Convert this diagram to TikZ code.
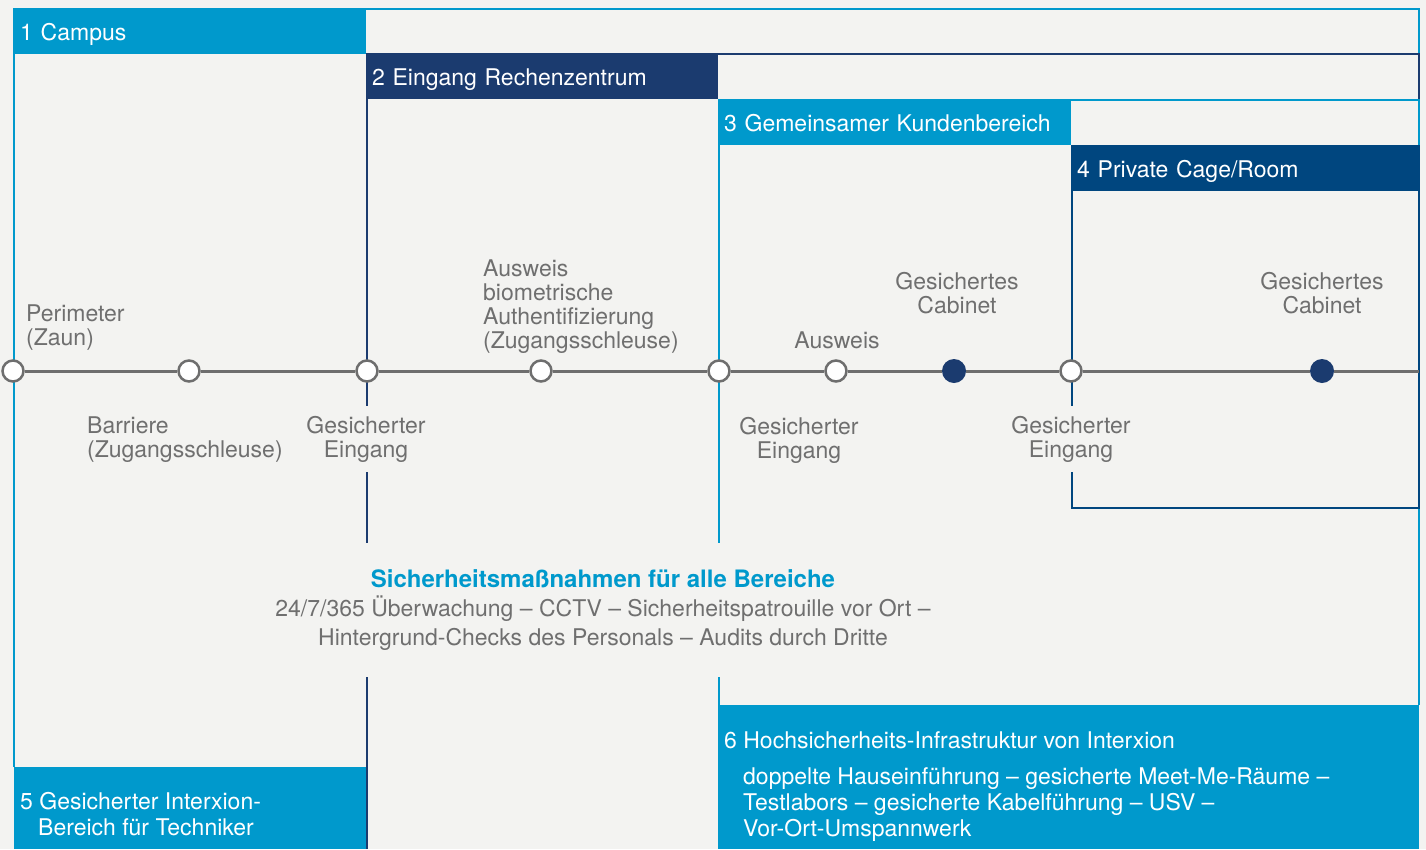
\documentclass[tikz,border=0pt]{standalone}
\usepackage{fontspec}
\setmainfont{TeX Gyre Heros}
\definecolor{bg}{HTML}{F3F3F1}
\definecolor{lblue}{HTML}{0099CC}
\definecolor{navyA}{HTML}{1B3B6F}
\definecolor{navyB}{HTML}{00467F}
\definecolor{track}{HTML}{6E6E6E}
\definecolor{txt}{HTML}{6F6F6F}
\begin{document}
\begin{tikzpicture}[x=1pt, y=-1pt,
        every node/.style={font=\fontsize{23}{24}\selectfont},
        header/.style={anchor=north west, inner xsep=6pt, inner ysep=0pt, text=white, align=left,
            text height=17pt, text depth=0pt, minimum height=45pt},
        note/.style={text=txt, inner sep=0pt},
        gapnote/.style={note, align=center, fill=bg, inner xsep=3pt, inner ysep=10pt},
        station/.style={circle, draw=track, line width=2.5pt, fill=white, minimum size=21pt, inner sep=0pt},
        cabinet/.style={circle, fill=navyA, minimum size=24pt, inner sep=0pt},
        wall/.style={line width=2pt}
    ]
        \useasboundingbox (0,0) rectangle (1426,849);
        \fill[bg] (0,0) rectangle (1426,849);

        % Frames
        \draw[wall, lblue] (14,767) -- (14,9) -- (1419,9) -- (1419,54);
        \draw[wall, navyA] (367,849) -- (367,54) -- (1419,54) -- (1419,100);
        \draw[wall, lblue] (719,705) -- (719,100) -- (1419,100) -- (1419,705);
        \draw[wall, navyB] (1072,146) -- (1419,146) -- (1419,508) -- (1072,508) -- cycle;

        % Headers
        \node[header, fill=lblue, text width=340pt] (h1) at (14,9) {1 Campus};
        \node[header, fill=navyA, text width=340pt] (h2) at (366,54) {2 Eingang Rechenzentrum};
        \node[header, fill=lblue, text width=341pt] (h3) at (718,100) {3 Gemeinsamer Kundenbereich};
        \node[header, fill=navyB, text width=336pt] (h4) at (1071,146) {4 Private Cage/Room};

        % Bottom boxes
        \fill[lblue] (14,767) rectangle (366,849);
        \fill[lblue] (718,705) rectangle (1419,849);
        \node[anchor=north west, inner sep=0pt, text=white, align=left, font=\fontsize{23}{26}\selectfont] (tech) at (20,792)
            {5 Gesicherter Interxion-\\\hspace*{18pt}Bereich für Techniker};
        \node[anchor=north west, inner sep=0pt, text=white] (infra) at (724,731)
            {6 Hochsicherheits-Infrastruktur von Interxion};
        \node[anchor=north west, inner sep=0pt, text=white, align=left, font=\fontsize{23}{26}\selectfont] (infralist) at (743,767)
            {doppelte Hauseinführung -- gesicherte Meet-Me-Räume --\\Testlabors -- gesicherte Kabelführung -- USV --\\Vor-Ort-Umspannwerk};

        % Track
        \node[station] (s1) at (13,371) {};
        \node[station] (s2) at (189,371) {};
        \node[station] (s3) at (367,371) {};
        \node[station] (s4) at (541,371) {};
        \node[station] (s5) at (719,371) {};
        \node[station] (s6) at (836,371) {};
        \node[cabinet] (c1) at (954,371) {};
        \node[station] (s7) at (1071,371) {};
        \node[cabinet] (c2) at (1322,371) {};
        \coordinate (tend) at (1419,371);

        \draw[track, line width=3pt] (s1) -- (s2) -- (s3) -- (s4) -- (s5) -- (s6) -- (c1) -- (s7) -- (c2) -- (tend);

        % Labels
        \node[note, anchor=north west, align=left] (per) at (26,305) {Perimeter\\(Zaun)};
        \node[note, anchor=north west, align=left] (bar) at (87,417) {Barriere\\(Zugangsschleuse)};
        \node[gapnote] (g1) at (366,439) {Gesicherter\\Eingang};
        \node[note, anchor=north west, align=left] (auth) at (483,260)
            {Ausweis\\biometrische\\Authentifizierung\\(Zugangsschleuse)};
        \node[note, anchor=north, align=center] (g2) at (799,417) {Gesicherter\\Eingang};
        \node[note, anchor=north] (badge) at (837,332) {Ausweis};
        \node[note, anchor=north, align=center] (cab1) at (957,272) {Gesichertes\\Cabinet};
        \node[gapnote] (g3) at (1071,439) {Gesicherter\\Eingang};
        \node[note, anchor=north, align=center] (cab2) at (1322,272) {Gesichertes\\Cabinet};

        % Measures for all areas
        \node[gapnote, inner ysep=27pt, font=\fontsize{23}{29}\selectfont] (all) at (603,610)
            {{\color{lblue}\fontsize{24}{29}\selectfont\bfseries Sicherheitsmaßnahmen für alle Bereiche}\\
             24/7/365 Überwachung -- CCTV -- Sicherheitspatrouille vor Ort --\\
             Hintergrund-Checks des Personals -- Audits durch Dritte};
    \end{tikzpicture}
\end{document}
